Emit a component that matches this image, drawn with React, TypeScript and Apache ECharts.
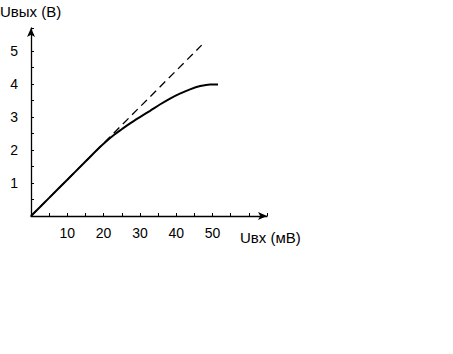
import React, { useEffect, useRef } from "react";
import * as echarts from "echarts";

const curveX = [0, 5, 10, 15, 19, 21, 23, 25, 27.3, 30, 32.8, 35.5, 38.3, 41, 43.8, 46.6, 49.3, 51.5];
const curveY = [0, 0.55, 1.1, 1.65, 2.09, 2.29, 2.47, 2.63, 2.81, 3.0, 3.19, 3.38, 3.56, 3.71, 3.84, 3.94, 3.99, 3.99];
const idealX = [0, 47];
const idealY = [0, 5.18];
const yTitle = "Uвых (В)";
const xTitle = "Uвх (мВ)";

export default function App() {
  const ref = useRef<HTMLDivElement>(null);
  useEffect(() => {
    const chart = echarts.init(ref.current!, null, { renderer: "svg" });
    const font = "Liberation Sans, Arial, sans-serif";
    chart.setOption({
      animation: false,
      backgroundColor: "#ffffff",
      grid: { left: 31, top: 28, width: 236, height: 188, containLabel: false },
      xAxis: {
        type: "value",
        min: 0,
        max: 65,
        interval: 5,
        axisLine: {
          show: true,
          symbol: ["none", "arrow"],
          symbolSize: [6, 9],
          lineStyle: { color: "#000", width: 1.3 },
        },
        axisTick: { show: true, inside: true, length: 3, lineStyle: { color: "#000" } },
        axisLabel: {
          color: "#000",
          fontFamily: font,
          fontSize: 14,
          margin: 10,
          formatter: (v: number) => (v > 0 && v <= 50 && v % 10 === 0 ? String(v) : ""),
        },
        splitLine: { show: false },
      },
      yAxis: {
        type: "value",
        min: 0,
        max: 5.7,
        interval: 0.5,
        axisLine: {
          show: true,
          symbol: ["none", "arrow"],
          symbolSize: [6, 9],
          lineStyle: { color: "#000", width: 1.3 },
        },
        axisTick: { show: true, inside: true, length: 3, lineStyle: { color: "#000" } },
        axisLabel: {
          color: "#000",
          fontFamily: font,
          fontSize: 14,
          margin: 13,
          formatter: (v: number) => (v > 0 && Number.isInteger(v) ? String(v) : ""),
        },
        splitLine: { show: false },
      },
      series: [
        {
          type: "line",
          data: idealX.map((x, i) => [x, idealY[i]]),
          symbol: "none",
          lineStyle: { color: "#000", width: 1.3, type: [8, 5] },
        },
        {
          type: "line",
          data: curveX.map((x, i) => [x, curveY[i]]),
          symbol: "none",
          smooth: 0.3,
          lineStyle: { color: "#000", width: 2 },
        },
      ],
      graphic: [
        {
          type: "text",
          left: 0,
          top: 4,
          style: { text: yTitle, fill: "#000", font: `15px ${font}` },
        },
        {
          type: "text",
          left: 240,
          top: 230,
          style: { text: xTitle, fill: "#000", font: `15px ${font}` },
        },
      ],
    });
    return () => chart.dispose();
  }, []);
  return (
    <div
      ref={ref}
      style={{ position: "fixed", left: 0, top: 0, width: 453, height: 354, background: "#fff" }}
    />
  );
}
